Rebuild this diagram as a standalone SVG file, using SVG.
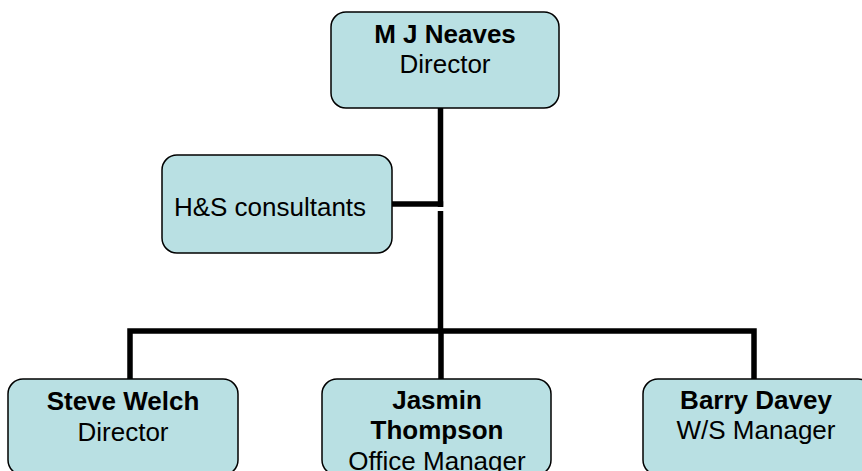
<svg xmlns="http://www.w3.org/2000/svg" width="862" height="471" viewBox="0 0 862 471">
<style>
.box{fill:#b9e0e3;stroke:#000;stroke-width:1.5}
.t{font-family:"Liberation Sans",Arial,sans-serif;font-size:26px;fill:#000;text-anchor:middle}
.b{font-weight:bold}
.c{fill:none;stroke:#000;stroke-width:5.5}
</style>
<rect width="862" height="471" fill="#fff"/>
<g id="connectors">
<path class="c" d="M440.5 108V207"/>
<path class="c" d="M392 204H443.2"/>
<path class="c" d="M440.5 211V331"/>
<path class="c" d="M130 379V331H754V379"/>
<path class="c" d="M441 331V379"/>
</g>
<g id="n-neaves">
<rect class="box" x="331" y="12" width="228" height="96" rx="15"/>
<text class="t b" x="445" y="43">M J Neaves</text>
<text class="t" x="445" y="73">Director</text>
</g>
<g id="n-hs">
<rect class="box" x="162" y="155" width="230" height="98" rx="15"/>
<text class="t" x="270" y="216">H&amp;S consultants</text>
</g>
<g id="n-welch">
<rect class="box" x="8" y="379" width="230" height="96" rx="15"/>
<text class="t b" x="123" y="410">Steve Welch</text>
<text class="t" x="123" y="441">Director</text>
</g>
<g id="n-thompson">
<rect class="box" x="322" y="379" width="229" height="96" rx="15"/>
<text class="t b" x="437" y="409">Jasmin</text>
<text class="t b" x="437" y="439">Thompson</text>
<text class="t" x="437" y="470">Office Manager</text>
</g>
<g id="n-davey">
<rect class="box" x="643" y="379" width="230" height="96" rx="15"/>
<text class="t b" x="756" y="409">Barry Davey</text>
<text class="t" x="756" y="439">W/S Manager</text>
</g>
</svg>
